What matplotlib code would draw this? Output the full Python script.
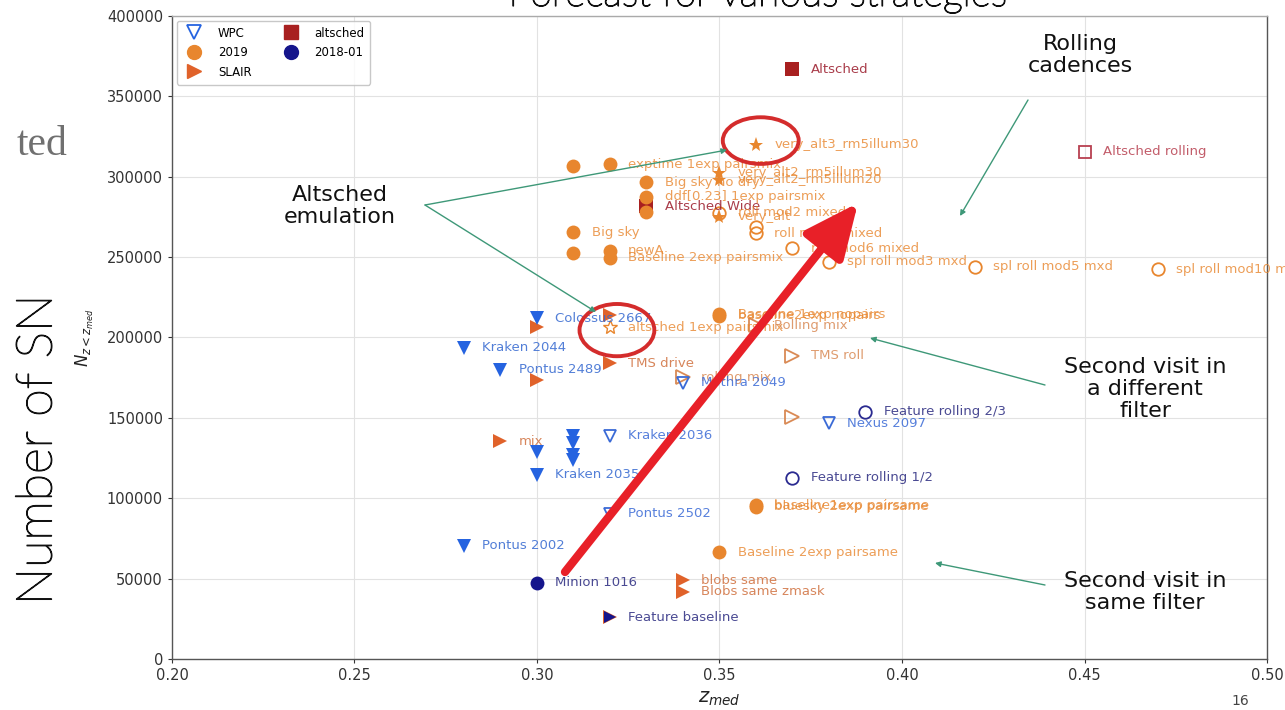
import matplotlib
matplotlib.use("Agg")
import numpy as np
import matplotlib.pyplot as plt
import matplotlib.patheffects as pe
from matplotlib.patches import Ellipse, FancyArrowPatch
from matplotlib.lines import Line2D

# ---------------- data ----------------
x_ticks = [0.20, 0.25, 0.30, 0.35, 0.40, 0.45, 0.50]
y_ticks = [0, 50000, 100000, 150000, 200000, 250000, 300000, 350000, 400000]

# WPC cadences, filled downward triangles
wpc_z = [0.30, 0.28, 0.29, 0.31, 0.31, 0.31, 0.31, 0.30, 0.30, 0.28]
wpc_n = [212000, 193500, 180000, 139000, 134500, 127000, 123500, 128500, 114500, 70300]
wpc_lbl = ["Colossus 2667", "Kraken 2044", "Pontus 2489", "", "", "", "", "",
           "Kraken 2035", "Pontus 2002"]

# WPC cadences, open downward triangles
wpc_open_z = [0.32, 0.34, 0.32, 0.38]
wpc_open_n = [139000, 171700, 90500, 146800]
wpc_open_lbl = ["Kraken 2036", "Mothra 2049", "Pontus 2502", "Nexus 2097"]

# 2019 cadences, filled circles
c19_z = [0.31, 0.32, 0.33, 0.33, 0.33, 0.31, 0.31, 0.32, 0.32, 0.35, 0.35, 0.36, 0.36, 0.35]
c19_n = [306500, 307800, 296500, 287500, 278000, 265500, 252500, 254000, 249500,
         214500, 213500, 95500, 94800, 66500]
c19_lbl = ["", "exptime 1exp pairsmix", "Big sky no dry", "ddf[0.23] 1exp pairsmix", "",
           "Big sky", "", "newA", "Baseline 2exp pairsmix", "Baseline 1exp nopairs",
           "baseline2exp nopairs", "baseline1exp pairsame", "bluesky 2exp pairsame",
           "Baseline 2exp pairsame"]

# 2019 alt-sched emulations, stars
star_z = [0.36, 0.35, 0.35, 0.35]
star_n = [319800, 302500, 298000, 275000]
star_lbl = ["very_alt3_rm5illum30", "very_alt2_rm5illum30", "very_alt2_rm5illum20", "very_alt"]

star_open_z = [0.32]
star_open_n = [206500]
star_open_lbl = ["altsched 1exp pairsmix"]

# 2019 rolling, open right triangles
rtri_z = [0.37, 0.37, 0.34, 0.36]
rtri_n = [188500, 150500, 175400, 207500]
rtri_lbl = ["TMS roll", "", "rolling mix", "Rolling mix"]

# 2019 rolling, open circles
rcirc_z = [0.35, 0.36, 0.36, 0.37, 0.38, 0.42, 0.47]
rcirc_n = [277500, 269000, 265000, 255500, 247000, 244000, 242500]
rcirc_lbl = ["roll mod2 mixed", "", "roll mod3 mixed", "roll mod6 mixed",
             "spl roll mod3 mxd", "spl roll mod5 mxd", "spl roll mod10 mxd"]

# SLAIR, filled right triangles
slair_z = [0.30, 0.32, 0.30, 0.29, 0.32, 0.34, 0.34, 0.32]
slair_n = [206500, 214000, 173600, 135500, 184000, 49000, 41700, 26100]
slair_lbl = ["", "", "", "mix", "TMS drive", "blobs same", "Blobs same zmask", ""]

# altsched, squares
alt_z = [0.37, 0.33]
alt_n = [367000, 281500]
alt_lbl = ["Altsched", "Altsched Wide"]
alt_open_z = [0.45]
alt_open_n = [315500]
alt_open_lbl = ["Altsched rolling"]

# 2018-01
v18_z = [0.30]
v18_n = [47300]
v18_lbl = ["Minion 1016"]
v18_open_z = [0.39, 0.37]
v18_open_n = [153700, 112600]
v18_open_lbl = ["Feature rolling 2/3", "Feature rolling 1/2"]
v18_tri_z = [0.32]
v18_tri_n = [26100]
v18_tri_lbl = ["Feature baseline"]

# ---------------- style ----------------
BLUE = "#2563e0"
ORANGE = "#e8862e"
SLAIR = "#e0622a"
DRED = "#a82020"
NAVY = "#15158c"
GREEN = "#3e9878"
RED = "#e82028"

W, H = 1285, 710
fig = plt.figure(figsize=(W / 100, H / 100), dpi=100)
fig.patch.set_facecolor("white")
ax = fig.add_axes([172 / W, 51 / H, 1095 / W, 643 / H])

ax.set_xlim(0.20, 0.50)
ax.set_ylim(0, 400000)
ax.set_xticks(x_ticks)
ax.set_xticklabels([f"{v:.2f}" for v in x_ticks])
ax.set_yticks(y_ticks)
ax.set_yticklabels([str(v) for v in y_ticks])
ax.tick_params(labelsize=10.5, colors="#333333", length=3)
ax.grid(True, color="#e2e2e2", lw=0.8)
ax.set_axisbelow(True)
for s in ax.spines.values():
    s.set_color("#555555")
    s.set_linewidth(1.0)
ax.spines["top"].set_color("#aaaaaa")

ax.set_xlabel(r"$z_{med}$", fontsize=14, color="#222222", labelpad=4)
ax.set_ylabel(r"$N_{z<z_{med}}$", fontsize=12, color="#222222")
ax.yaxis.set_label_coords(-0.069, 0.50)

DX = 0.005


def series(xs, ys, labels, marker, color, ms, filled=True, tcolor=None, talpha=0.85, z=3, mew=1.3):
    face = color if filled else "none"
    ax.plot(xs, ys, ls="none", marker=marker, ms=ms, mfc=face, mec=color,
            mew=(0 if filled else mew), zorder=z)
    for x, y, t in zip(xs, ys, labels):
        if t:
            ax.text(x + DX, y, t, fontsize=9.5, color=tcolor or color, alpha=talpha,
                    va="center", ha="left", zorder=5)


series(alt_z, alt_n, alt_lbl, "s", DRED, 10, tcolor="#9a1a2a")
series(alt_open_z, alt_open_n, alt_open_lbl, "s", "#b84050", 9, filled=False)
series(rcirc_z, rcirc_n, rcirc_lbl, "o", ORANGE, 9, filled=False, talpha=0.8)
series(c19_z, c19_n, c19_lbl, "o", ORANGE, 10, talpha=0.8)
series(star_z, star_n, star_lbl, "*", ORANGE, 11, talpha=0.8, z=4)
series(star_open_z, star_open_n, star_open_lbl, "*", ORANGE, 10, filled=False, talpha=0.8, mew=1.0)
series(rtri_z, rtri_n, rtri_lbl, ">", "#d98a55", 10, filled=False, talpha=0.85)
series(slair_z, slair_n, slair_lbl, ">", SLAIR, 10, tcolor="#d0703e", talpha=0.85)
series(wpc_z, wpc_n, wpc_lbl, "v", BLUE, 10, tcolor="#3468d0")
series(wpc_open_z, wpc_open_n, wpc_open_lbl, "v", "#3a6ad6", 9, filled=False)
series(v18_z, v18_n, v18_lbl, "o", NAVY, 10, tcolor="#2a2a80")
series(v18_open_z, v18_open_n, v18_open_lbl, "o", "#2a2a90", 9, filled=False, tcolor="#2a2a80")
series(v18_tri_z, v18_tri_n, v18_tri_lbl, ">", NAVY, 9, tcolor="#2a2a80", z=4)

handles = [
    Line2D([], [], ls="none", marker="v", ms=10, mfc="none", mec=BLUE, mew=1.3, label="WPC"),
    Line2D([], [], ls="none", marker="o", ms=10, mfc=ORANGE, mec=ORANGE, label="2019"),
    Line2D([], [], ls="none", marker=">", ms=10, mfc=SLAIR, mec=SLAIR, label="SLAIR"),
    Line2D([], [], ls="none", marker="s", ms=10, mfc=DRED, mec=DRED, label="altsched"),
    Line2D([], [], ls="none", marker="o", ms=10, mfc=NAVY, mec=NAVY, label="2018-01"),
]
leg = ax.legend(handles=handles, loc="upper left", ncol=2, fontsize=8.5,
                frameon=True, borderaxespad=0.4, handletextpad=1.0,
                columnspacing=2.3, labelspacing=0.55, fancybox=True, borderpad=0.5)
leg.get_frame().set_edgecolor("#bbbbbb")

# highlighted regions
ax.add_patch(Ellipse((0.3613, 322500), 0.0208, 29000, fill=False, ec="#d42c2c", lw=2.8, zorder=6))
ax.add_patch(Ellipse((0.3219, 204600), 0.0205, 32500, fill=False, ec="#d42c2c", lw=2.8, zorder=6))


def fp(x, y):
    return (x / W, 1 - y / H)


def green_arrow(p0, p1):
    fig.add_artist(FancyArrowPatch(fp(*p0), fp(*p1), transform=fig.transFigure,
                                   arrowstyle="-|>", mutation_scale=8, color=GREEN,
                                   lw=1.0, shrinkA=0, shrinkB=0, zorder=7))


green_arrow((425, 205), (727, 150))
green_arrow((425, 205), (596, 312))
green_arrow((1028, 100), (960, 216))
green_arrow((1045, 385), (870, 338))
green_arrow((1045, 585), (935, 563))

fig.add_artist(FancyArrowPatch(fp(565, 572), fp(858, 203), transform=fig.transFigure,
                               arrowstyle="-|>,head_length=1.1,head_width=0.5",
                               mutation_scale=30, color=RED, lw=6.0,
                               shrinkA=0, shrinkB=0, zorder=8))

note_kw = dict(fontsize=16, color="#111111", ha="center", va="center",
               linespacing=1.1, transform=fig.transFigure, zorder=9)
fig.text(*fp(340, 206), "Altsched\nemulation", **note_kw)
fig.text(*fp(1080, 55), "Rolling\ncadences", **note_kw)
fig.text(*fp(1145, 389), "Second visit in\na different\nfilter", **note_kw)
fig.text(*fp(1145, 592), "Second visit in\nsame filter", **note_kw)

# slide overlay text (thin face, slightly thickened)
thin = [pe.withStroke(linewidth=0.9, foreground="#111111")]
fig.text(*fp(758, 6), "Forecast for various strategies", fontsize=28, family="Lato",
         fontweight="light", color="#111111", ha="center", va="baseline", path_effects=thin)
fig.text(*fp(38, 450), "Number of SN", fontsize=36, family="Lato", fontweight="light",
         color="#111111", rotation=90, ha="center", va="center", path_effects=thin)
fig.text(*fp(42, 145), "ted", fontsize=30, family="Liberation Serif",
         color="#707070", ha="center", va="center")
fig.text(*fp(1240, 701), "16", fontsize=10, color="#444444", ha="center", va="center")

fig.savefig("out.png", dpi=100, facecolor="white")
